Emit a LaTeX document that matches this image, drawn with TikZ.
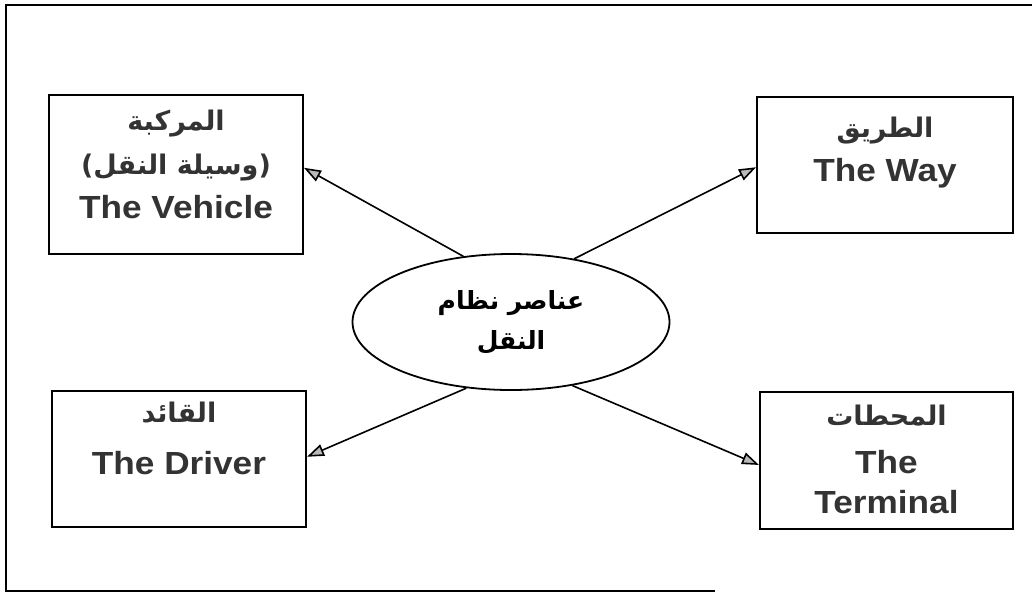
\documentclass[tikz,border=0pt]{standalone}
\usepackage{fontspec}
\setmainfont{Liberation Sans}[FakeStretch=1.1]
\newfontfamily\arabicfont[Script=Arabic]{DejaVu Sans}
\TeXXeTstate=1
\usetikzlibrary{arrows.meta,positioning,shapes.geometric}

\newcommand{\arfont}{\arabicfont\bfseries\fontsize{27}{44}\selectfont}
\newcommand{\artxt}[1]{{\arfont\beginR #1\endR}}

\begin{document}
\begin{tikzpicture}[x=1pt,y=-1pt,
    box/.style={draw,line width=2pt,inner sep=0pt},
    boxtxt/.style={align=center,inner sep=0pt,text=black!80,
      font=\fontsize{32}{44}\selectfont\bfseries},
    arr/.style={line width=1.6pt,
      -{Triangle[length=17pt,width=12pt,fill=gray!55]}}]
  \useasboundingbox (0,0) rectangle (1032,595);
  % ---- frame ----
  \draw[line width=2pt] (1032,5) -- (6,5) -- (6,591) -- (715,591);
  % ---- core ----
  \node[ellipse,draw,line width=1.8pt,minimum width=317pt,minimum height=136pt,
    inner sep=0pt,align=center,font=\arabicfont\bfseries\fontsize{25}{40}\selectfont]
    (core) at (511,322) {\beginR عناصر نظام\endR\\\beginR النقل\endR};
  % ---- elements ----
  \node[box,minimum width=254pt,minimum height=159pt] (vehicle) at (176,174.5) {};
  \node[box,minimum width=256pt,minimum height=136pt] (way) at (885,165) {};
  \node[box,minimum width=254pt,minimum height=136pt] (driver) at (179,459) {};
  \node[box,minimum width=253pt,minimum height=137pt] (terminal) at (886.5,460.5) {};
  % ---- element labels ----
  \node[boxtxt,below=16pt of vehicle.north] (vehicletxt)
    {\artxt{المركبة}\\{\arfont)\beginR وسيلة النقل\endR(}\\The Vehicle};
  \node[boxtxt,below=21pt of way.north] (waytxt)
    {\artxt{الطريق}\\The Way};
  \node[boxtxt,below=12pt of driver.north] (drivertxt)
    {\artxt{القائد}\\[8pt]The Driver};
  \node[boxtxt,below=14pt of terminal.north] (terminaltxt)
    {\artxt{المحطات}\\[4pt]The\\[-4pt]Terminal};
  % ---- arrows ----
  \foreach \from/\to in {126/vehicle.3, 45/way.181, 236/driver.1, 314/terminal.182}
    \draw[arr] (core.\from) -- (\to);
\end{tikzpicture}
\end{document}
